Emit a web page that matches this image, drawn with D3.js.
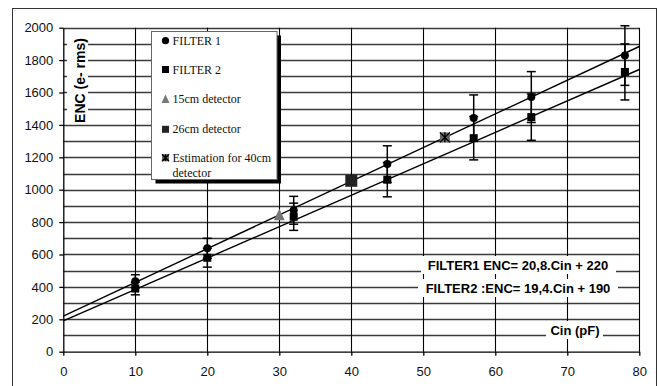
<!DOCTYPE html>
<html>
<head>
<meta charset="utf-8">
<script src="https://cdn.jsdelivr.net/npm/d3@7"></script>
<style>
  body { margin: 0; background: #fff; }
  svg { display: block; }
</style>
</head>
<body>
<script>
// data
var cinF1 = [10, 20, 32, 45, 57, 65, 78];
var encF1 = [435, 638, 873, 1158, 1442, 1572, 1828];
var errF1 = [40, 62, 86, 113, 143, 157, 184];
var cinF2 = [10, 20, 32, 45, 57, 65, 78];
var encF2 = [390, 580, 833, 1062, 1318, 1448, 1727];
var errF2 = [39, 58, 84, 106, 134, 143, 173];
var det15 = [30, 842];
var det26 = [40, 1055];
var est40 = [53, 1323];
var fitSlope = [20.8, 19.4];
var fitIntercept = [220, 190];
var fitLabels = ["FILTER1 ENC= 20,8.Cin + 220", "FILTER2 :ENC= 19,4.Cin + 190"];
var legendLabels = ["FILTER 1", "FILTER 2", "15cm detector", "26cm detector", "Estimation for 40cm"];
var xTicks = d3.range(0, 81, 10);
var yTicks = d3.range(0, 2001, 200);
var yGrid = d3.range(100, 2001, 100);

var width = 659, height = 386;
var sans = "'Liberation Sans', Arial, sans-serif";
var serif = "'Liberation Serif', 'Times New Roman', serif";

var svg = d3.select("body").append("svg")
    .attr("width", width)
    .attr("height", height);

var x = d3.scaleLinear().domain([0, 80]).range([63.3, 639.3]);
var y = d3.scaleLinear().domain([0, 2000]).range([351.7, 27.7]);

// outer frame
svg.append("rect")
    .attr("x", 12.5).attr("y", 8.5)
    .attr("width", 644).attr("height", 390)
    .attr("fill", "none").attr("stroke", "#333").attr("stroke-width", 1);

// grid
svg.append("g").selectAll("line").data(yGrid).enter().append("line")
    .attr("x1", x(0)).attr("x2", x(80))
    .attr("y1", function(d) { return Math.round(y(d)) + 0.5; })
    .attr("y2", function(d) { return Math.round(y(d)) + 0.5; })
    .attr("stroke", "#3a3a3a").attr("stroke-width", 1.4);
svg.append("g").selectAll("line").data(xTicks.slice(1)).enter().append("line")
    .attr("x1", function(d) { return Math.round(x(d)) + 0.5; })
    .attr("x2", function(d) { return Math.round(x(d)) + 0.5; })
    .attr("y1", y(2000)).attr("y2", y(0))
    .attr("stroke", "#000").attr("stroke-width", 1.1);

// axes
var yAxis = svg.append("g")
    .attr("transform", "translate(" + x(0) + ",0)")
    .call(d3.axisLeft(y).tickValues(yTicks).tickFormat(d3.format("d"))
        .tickSize(4).tickSizeOuter(0).tickPadding(6));
var xAxis = svg.append("g")
    .attr("transform", "translate(0," + y(0) + ")")
    .call(d3.axisBottom(x).tickValues(xTicks).tickFormat(d3.format("d"))
        .tickSize(4).tickSizeOuter(0).tickPadding(11));
[xAxis, yAxis].forEach(function(ax) {
    ax.selectAll("text").attr("font-family", sans).attr("font-size", 13).attr("fill", "#111");
    ax.selectAll("line, path").attr("stroke", "#000").attr("stroke-width", 1.3);
});

// y title on white box
svg.append("rect").attr("x", 67).attr("y", 32).attr("width", 21).attr("height", 89).attr("fill", "#fff");
svg.append("text")
    .attr("transform", "translate(85," + 80.5 + ") rotate(-90)")
    .attr("text-anchor", "middle")
    .attr("font-family", sans).attr("font-weight", "bold").attr("font-size", 14)
    .text("ENC (e- rms)");

// fit lines
var fits = svg.append("g");
fitSlope.forEach(function(m, i) {
    fits.append("line")
        .attr("x1", x(0)).attr("y1", y(fitIntercept[i]))
        .attr("x2", x(80)).attr("y2", y(fitIntercept[i] + m * 80))
        .attr("stroke", "#000").attr("stroke-width", 1.4);
});

// error bars
function errorBars(xs, ys, es) {
    var g = svg.append("g").attr("stroke", "#000").attr("stroke-width", 1.5);
    xs.forEach(function(c, i) {
        var cx = x(c);
        g.append("line").attr("x1", cx).attr("x2", cx)
            .attr("y1", y(ys[i] - es[i])).attr("y2", y(ys[i] + es[i]));
        [ys[i] - es[i], ys[i] + es[i]].forEach(function(v) {
            g.append("line").attr("x1", cx - 4.5).attr("x2", cx + 4.5)
                .attr("y1", y(v)).attr("y2", y(v));
        });
    });
}
errorBars(cinF1, encF1, errF1);
errorBars(cinF2, encF2, errF2);

// markers
svg.append("g").selectAll("circle").data(cinF1).enter().append("circle")
    .attr("cx", function(d) { return x(d); })
    .attr("cy", function(d, i) { return y(encF1[i]); })
    .attr("r", 4).attr("fill", "#000");
svg.append("g").selectAll("rect").data(cinF2).enter().append("rect")
    .attr("x", function(d) { return x(d) - 4; })
    .attr("y", function(d, i) { return y(encF2[i]) - 4; })
    .attr("width", 8).attr("height", 8).attr("fill", "#000");

function triangle(g, cx, cy, s) {
    g.append("path")
        .attr("d", "M" + cx + "," + (cy - s * 0.6) + "L" + (cx + s / 2) + "," + (cy + s * 0.45) +
              "L" + (cx - s / 2) + "," + (cy + s * 0.45) + "Z")
        .attr("fill", "#777");
}
function estMark(g, cx, cy, s) {
    g.append("rect").attr("x", cx - s / 2).attr("y", cy - s / 2)
        .attr("width", s).attr("height", s).attr("fill", "#666");
    g.append("path")
        .attr("d", "M" + (cx - s / 2) + "," + (cy - s / 2) + "L" + (cx + s / 2) + "," + (cy + s / 2) +
              "M" + (cx + s / 2) + "," + (cy - s / 2) + "L" + (cx - s / 2) + "," + (cy + s / 2) +
              "M" + cx + "," + (cy - s / 2) + "L" + cx + "," + (cy + s / 2))
        .attr("stroke", "#000").attr("stroke-width", 1.3);
}
var extra = svg.append("g");
triangle(extra, x(det15[0]), y(det15[1]), 11);
extra.append("rect")
    .attr("x", x(det26[0]) - 6).attr("y", y(det26[1]) - 6)
    .attr("width", 12).attr("height", 12).attr("fill", "#222");
estMark(extra, x(est40[0]), y(est40[1]), 10);

// equation labels
var eqY = [265, 288];
var eqBox = [[421, 195], [418, 200]];
fitLabels.forEach(function(t, i) {
    svg.append("rect").attr("x", eqBox[i][0]).attr("y", eqY[i] - 9)
        .attr("width", eqBox[i][1]).attr("height", 18).attr("fill", "#fff");
    svg.append("text").attr("x", 518).attr("y", eqY[i] + 5)
        .attr("text-anchor", "middle")
        .attr("font-family", sans).attr("font-weight", "bold").attr("font-size", 13)
        .text(t);
});
svg.append("rect").attr("x", 546).attr("y", 321).attr("width", 57).attr("height", 18).attr("fill", "#fff");
svg.append("text").attr("x", 575).attr("y", 335)
    .attr("text-anchor", "middle")
    .attr("font-family", sans).attr("font-weight", "bold").attr("font-size", 13)
    .text("Cin (pF)");

// legend
var lg = svg.append("g");
lg.append("rect").attr("x", 155.5).attr("y", 35.5).attr("width", 125.5).attr("height", 148).attr("fill", "#000");
lg.append("rect").attr("x", 151.5).attr("y", 31.5).attr("width", 125.5).attr("height", 148)
    .attr("fill", "#fff").attr("stroke", "#666").attr("stroke-width", 1);
var legY = [40.7, 69.5, 99.3, 129.3, 157.7];
var mx = 165.5;
lg.append("circle").attr("cx", mx).attr("cy", legY[0]).attr("r", 3.6).attr("fill", "#000");
lg.append("rect").attr("x", mx - 3.5).attr("y", legY[1] - 3.5).attr("width", 7).attr("height", 7).attr("fill", "#000");
triangle(lg, mx, legY[2], 8);
lg.append("rect").attr("x", mx - 3.5).attr("y", legY[3] - 3.5).attr("width", 7).attr("height", 7).attr("fill", "#222");
estMark(lg, mx, legY[4], 7);
legendLabels.forEach(function(t, i) {
    lg.append("text").attr("x", 172.5).attr("y", legY[i] + 4)
        .attr("font-family", serif).attr("font-size", 12).attr("fill", "#111")
        .text(t);
});
lg.append("text").attr("x", 172.5).attr("y", 176.5)
    .attr("font-family", serif).attr("font-size", 12).attr("fill", "#111")
    .text("detector");
</script>
</body>
</html>
